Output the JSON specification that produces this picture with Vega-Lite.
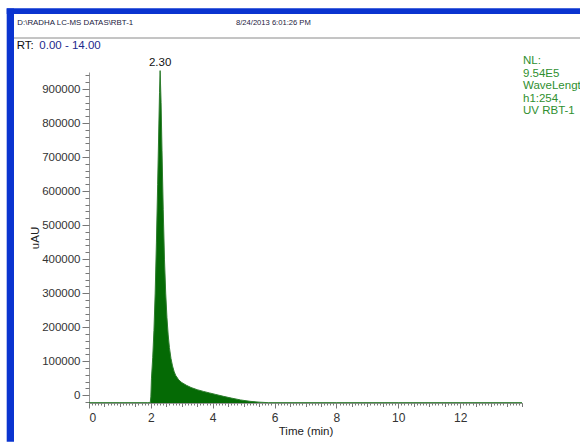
{
  "$schema": "https://vega.github.io/schema/vega-lite/v6.json",
  "width": 433,
  "height": 331,
  "autosize": "none",
  "padding": {"left": 89, "top": 72, "right": 58, "bottom": 39},
  "background": "white",
  "config": {
    "view": {"stroke": null},
    "font": "Liberation Sans",
    "axis": {
      "grid": false,
      "labelFont": "Liberation Sans",
      "titleFont": "Liberation Sans",
      "labelColor": "#333333",
      "titleColor": "#222222",
      "titleFontWeight": "normal",
      "tickColor": "#777777",
      "domainColor": "#9a9a9a",
      "labelFontSize": 11.5,
      "titleFontSize": 11.5
    }
  },
  "datasets": {
    "trace": [
      {"t": 0.0, "v": -22000}, {"t": 1.0, "v": -22000}, {"t": 1.9, "v": -22000}, {"t": 1.98, "v": -22000},
      {"t": 2.0, "v": -5000}, {"t": 2.02, "v": 50000}, {"t": 2.06, "v": 110000}, {"t": 2.1, "v": 190000},
      {"t": 2.14, "v": 300000}, {"t": 2.18, "v": 450000}, {"t": 2.22, "v": 620000}, {"t": 2.26, "v": 800000},
      {"t": 2.28, "v": 890000}, {"t": 2.3, "v": 954000}, {"t": 2.33, "v": 860000}, {"t": 2.36, "v": 720000},
      {"t": 2.4, "v": 545000}, {"t": 2.44, "v": 400000}, {"t": 2.48, "v": 300000}, {"t": 2.52, "v": 228000},
      {"t": 2.56, "v": 177000}, {"t": 2.6, "v": 140000}, {"t": 2.65, "v": 108000}, {"t": 2.7, "v": 86000},
      {"t": 2.75, "v": 70000}, {"t": 2.8, "v": 58500}, {"t": 2.9, "v": 45000}, {"t": 3.0, "v": 37000},
      {"t": 3.15, "v": 29000}, {"t": 3.3, "v": 22500}, {"t": 3.5, "v": 16000}, {"t": 3.7, "v": 11000},
      {"t": 3.9, "v": 6500}, {"t": 4.1, "v": 2000}, {"t": 4.35, "v": -3500}, {"t": 4.6, "v": -8500},
      {"t": 4.9, "v": -14000}, {"t": 5.2, "v": -18000}, {"t": 5.5, "v": -20500}, {"t": 5.8, "v": -22000},
      {"t": 8.0, "v": -22000}, {"t": 10.0, "v": -22000}, {"t": 12.0, "v": -22000}, {"t": 14.0, "v": -22000}
    ],
    "peak": [{"t": 2.3, "v": 954000, "label": "2.30"}],
    "one": [{}]
  },
  "layer": [
    {
      "data": {"name": "trace"},
      "mark": {"type": "area", "color": "#056a05", "clip": false},
      "encoding": {
        "x": {"field": "t", "type": "quantitative",
              "scale": {"domain": [0, 14], "nice": false, "zero": false},
              "axis": {"orient": "bottom", "values": [0, 2, 4, 6, 8, 10, 12], "title": "Time (min)",
                       "tickSize": 5, "labelPadding": 4, "titlePadding": 2, "format": "d", "labelFontSize": 12}},
        "y": {"field": "v", "type": "quantitative",
              "scale": {"domain": [-23000, 950000], "nice": false, "zero": false},
              "axis": {"orient": "left", "values": [0, 100000, 200000, 300000, 400000, 500000, 600000, 700000, 800000, 900000],
                       "title": "uAU", "tickSize": 7, "labelPadding": 2, "titlePadding": 1, "format": "d"}},
        "y2": {"datum": -23000}
      }
    },
    {
      "data": {"name": "trace"},
      "mark": {"type": "line", "color": "#2e7d2e", "strokeWidth": 1, "clip": false},
      "encoding": {
        "x": {"field": "t", "type": "quantitative",
              "scale": {"domain": [0, 14], "nice": false, "zero": false},
              "axis": {"orient": "bottom", "tickCount": 140, "labels": false, "domain": false, "title": null, "tickSize": 2}},
        "y": {"field": "v", "type": "quantitative",
              "scale": {"domain": [-23000, 950000], "nice": false, "zero": false},
              "axis": {"orient": "left", "tickCount": 49, "labels": false, "domain": false, "title": null, "tickSize": 4}}
      }
    },
    {
      "data": {"name": "peak"},
      "mark": {"type": "text", "fontSize": 11.5, "color": "#111111", "baseline": "bottom", "dy": -3},
      "encoding": {
        "x": {"field": "t", "type": "quantitative",
              "scale": {"domain": [0, 14], "nice": false, "zero": false},
              "axis": {"orient": "bottom", "tickCount": 28, "labels": false, "domain": false, "title": null, "tickSize": 3.5}},
        "y": {"field": "v", "type": "quantitative",
              "scale": {"domain": [-23000, 950000], "nice": false, "zero": false}, "axis": null},
        "text": {"field": "label"}
      }
    },
    {
      "data": {"name": "one"},
      "mark": {"type": "rule", "color": "#0a34d0", "strokeWidth": 5.7, "clip": false},
      "encoding": {
        "x": {"datum": -2.661, "type": "quantitative", "scale": {"domain": [0, 14], "nice": false, "zero": false}, "axis": null},
        "x2": {"datum": 22},
        "y": {"datum": 1129000, "type": "quantitative", "scale": {"domain": [-23000, 950000], "nice": false, "zero": false}, "axis": null}
      }
    },
    {
      "data": {"name": "one"},
      "mark": {"type": "rect", "color": "#0a34d0", "clip": false},
      "encoding": {
        "x": {"datum": -2.661, "type": "quantitative", "scale": {"domain": [0, 14], "nice": false, "zero": false}, "axis": null},
        "x2": {"datum": -2.425},
        "y": {"datum": 1137000, "type": "quantitative", "scale": {"domain": [-23000, 950000], "nice": false, "zero": false}, "axis": null},
        "y2": {"datum": -137000}
      }
    },
    {
      "data": {"name": "one"},
      "mark": {"type": "rule", "color": "#8a8a8a", "strokeWidth": 1, "clip": false},
      "encoding": {
        "x": {"datum": -2.425, "type": "quantitative", "scale": {"domain": [0, 14], "nice": false, "zero": false}, "axis": null},
        "x2": {"datum": 22},
        "y": {"datum": 1049900, "type": "quantitative", "scale": {"domain": [-23000, 950000], "nice": false, "zero": false}, "axis": null}
      }
    },
    {
      "data": {"name": "one"},
      "mark": {"type": "text", "fontSize": 7.9, "color": "#1a1a40", "align": "left", "baseline": "middle", "text": "D:\\RADHA LC-MS DATAS\\RBT-1", "clip": false},
      "encoding": {
        "x": {"datum": -2.318, "type": "quantitative", "scale": {"domain": [0, 14], "nice": false, "zero": false}, "axis": null},
        "y": {"datum": 1094000, "type": "quantitative", "scale": {"domain": [-23000, 950000], "nice": false, "zero": false}, "axis": null}
      }
    },
    {
      "data": {"name": "one"},
      "mark": {"type": "text", "fontSize": 7.6, "color": "#1a1a40", "align": "left", "baseline": "middle", "text": "8/24/2013 6:01:26 PM", "clip": false},
      "encoding": {
        "x": {"datum": 4.753, "type": "quantitative", "scale": {"domain": [0, 14], "nice": false, "zero": false}, "axis": null},
        "y": {"datum": 1094000, "type": "quantitative", "scale": {"domain": [-23000, 950000], "nice": false, "zero": false}, "axis": null}
      }
    },
    {
      "data": {"name": "one"},
      "mark": {"type": "text", "fontSize": 11.5, "color": "#111111", "align": "left", "baseline": "middle", "text": "RT:", "clip": false},
      "encoding": {
        "x": {"datum": -2.338, "type": "quantitative", "scale": {"domain": [0, 14], "nice": false, "zero": false}, "axis": null},
        "y": {"datum": 1026400, "type": "quantitative", "scale": {"domain": [-23000, 950000], "nice": false, "zero": false}, "axis": null}
      }
    },
    {
      "data": {"name": "one"},
      "mark": {"type": "text", "fontSize": 11.5, "color": "#1c2a8c", "align": "left", "baseline": "middle", "text": "0.00 - 14.00", "clip": false},
      "encoding": {
        "x": {"datum": -1.607, "type": "quantitative", "scale": {"domain": [0, 14], "nice": false, "zero": false}, "axis": null},
        "y": {"datum": 1026400, "type": "quantitative", "scale": {"domain": [-23000, 950000], "nice": false, "zero": false}, "axis": null}
      }
    },
    {
      "data": {"name": "one"},
      "mark": {"type": "text", "fontSize": 11.5, "color": "#2f8f2f", "align": "left", "baseline": "top", "lineHeight": 12.6, "lineBreak": "\n", "text": "NL:\n9.54E5\nWaveLengt\nh1:254,\nUV RBT-1", "clip": false},
      "encoding": {
        "x": {"datum": 14.032, "type": "quantitative", "scale": {"domain": [0, 14], "nice": false, "zero": false}, "axis": null},
        "y": {"datum": 1000000, "type": "quantitative", "scale": {"domain": [-23000, 950000], "nice": false, "zero": false}, "axis": null}
      }
    }
  ],
  "resolve": {"axis": {"x": "independent", "y": "independent"}}
}
